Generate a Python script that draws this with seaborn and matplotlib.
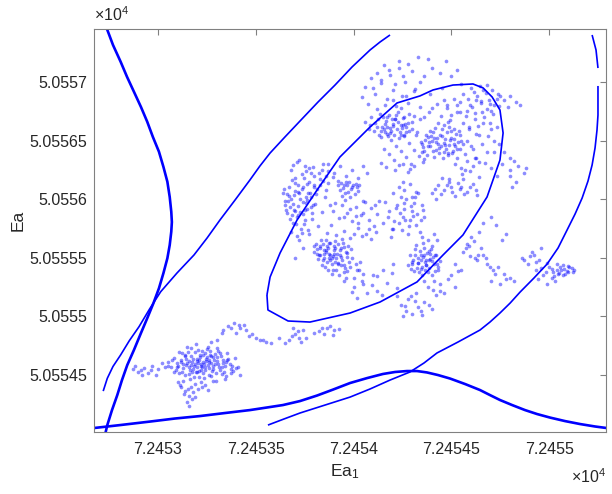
import numpy as np
import pandas as pd
import matplotlib
matplotlib.use("Agg")
import matplotlib.pyplot as plt
import seaborn as sns

# All coordinates below are offsets from these reference values
EA1_REF = 72450.0
EA_REF = 50550.0

# ---- posterior samples (Ea1, Ea) -------------------------------------------
samples_lower_left = [
    (3.15, 4.60), (3.18, 4.55), (3.20, 4.62), (3.22, 4.58), (3.25, 4.65), (3.27, 4.60),
    (3.17, 4.66), (3.23, 4.52), (3.28, 4.55), (3.30, 4.62), (3.19, 4.70), (3.24, 4.69),
    (3.13, 4.56), (3.21, 4.48), (3.26, 4.50), (3.31, 4.57), (3.16, 4.51), (3.29, 4.68),
    (3.33, 4.60), (3.12, 4.63), (3.20, 4.57), (3.23, 4.61), (3.26, 4.56), (3.18, 4.64),
    (3.22, 4.54), (3.27, 4.66), (3.14, 4.67), (3.10, 4.58), (3.34, 4.53), (3.36, 4.64),
    (3.38, 4.58), (3.35, 4.49), (3.08, 4.53), (3.11, 4.70), (3.17, 4.73), (3.25, 4.72),
    (3.30, 4.73), (3.28, 4.45), (3.22, 4.44), (3.40, 4.56), (3.19, 4.59), (3.21, 4.63),
    (3.24, 4.57), (3.16, 4.62), (3.26, 4.61), (3.20, 4.53), (3.29, 4.59), (3.13, 4.59),
    (3.32, 4.66), (3.23, 4.67),
    (3.185, 4.575), (3.205, 4.605), (3.235, 4.595), (3.255, 4.585), (3.175, 4.615),
    (3.215, 4.655), (3.245, 4.635), (3.265, 4.675), (3.195, 4.525), (3.285, 4.625),
    (3.305, 4.595), (3.145, 4.585), (3.165, 4.545), (3.225, 4.565), (3.275, 4.535),
    (3.315, 4.685), (3.345, 4.575), (3.125, 4.525), (3.155, 4.695), (3.205, 4.715),
    (3.355, 4.625), (3.375, 4.515), (3.095, 4.565), (3.235, 4.475), (3.265, 4.705),
    (3.185, 4.485), (3.325, 4.505), (3.295, 4.515), (3.215, 4.675), (3.145, 4.635),
    (3.052, 4.612), (3.068, 4.571), (3.083, 4.648), (3.097, 4.603), (3.108, 4.521),
    (3.121, 4.684), (3.138, 4.497), (3.149, 4.742), (3.163, 4.468), (3.171, 4.589),
    (3.188, 4.427), (3.196, 4.761), (3.209, 4.536), (3.227, 4.702), (3.238, 4.412),
    (3.246, 4.617), (3.258, 4.739), (3.271, 4.488), (3.282, 4.653), (3.297, 4.447),
    (3.309, 4.709), (3.318, 4.542), (3.331, 4.632), (3.342, 4.468), (3.353, 4.691),
    (3.367, 4.598), (3.384, 4.532), (3.396, 4.644), (3.408, 4.571), (3.419, 4.503),
    (3.071, 4.629), (3.092, 4.541), (3.117, 4.608), (3.139, 4.662), (3.157, 4.571),
    (3.176, 4.523), (3.197, 4.641), (3.218, 4.598), (3.239, 4.542), (3.261, 4.627),
    (3.283, 4.578), (3.304, 4.651), (3.326, 4.567), (3.348, 4.612), (3.371, 4.549),
    (3.178, 4.352), (3.204, 4.381), (3.226, 4.398), (3.254, 4.371), (3.187, 4.312),
    (2.87, 4.55), (2.90, 4.53), (2.93, 4.56), (2.95, 4.52), (2.97, 4.58), (3.00, 4.55),
    (3.02, 4.60), (3.05, 4.58), (2.92, 4.50), (2.99, 4.50),
    (2.885, 4.575), (2.915, 4.545), (2.965, 4.545), (3.035, 4.565),
    (3.12, 4.40), (3.14, 4.36), (3.16, 4.32), (3.15, 4.27), (3.17, 4.40), (3.13, 4.45),
    (3.10, 4.44), (3.16, 4.24), (3.135, 4.335), (3.155, 4.385), (3.175, 4.295),
    (3.115, 4.415),
]
samples_bridge = [
    (3.30, 4.80), (3.33, 4.88), (3.36, 4.92), (3.39, 4.94), (3.42, 4.90), (3.45, 4.88),
    (3.48, 4.85), (3.52, 4.80), (3.55, 4.78), (3.58, 4.77), (3.50, 4.82), (3.44, 4.93),
    (3.40, 4.86), (3.27, 4.78),
    (3.325, 4.855), (3.375, 4.905), (3.415, 4.925), (3.465, 4.835), (3.535, 4.795),
    (3.67, 4.80), (3.70, 4.85), (3.72, 4.82), (3.69, 4.90), (3.74, 4.88), (3.73, 4.78),
    (3.80, 4.86), (3.84, 4.90), (3.88, 4.92), (3.85, 4.85), (3.90, 4.88), (3.62, 4.82),
    (3.65, 4.77), (3.685, 4.835), (3.715, 4.875), (3.755, 4.815), (3.825, 4.875),
    (3.865, 4.905), (3.895, 4.845), (3.925, 4.895),
]
samples_below_ring = [
    (4.24, 5.10), (4.27, 5.05), (4.30, 5.02), (4.33, 5.08), (4.36, 5.12), (4.28, 5.15),
    (4.40, 5.06), (4.25, 5.00), (4.35, 5.01), (4.42, 5.18), (4.38, 5.25), (4.44, 5.22),
    (4.32, 5.20), (4.41, 5.30), (4.22, 5.17),
    (4.265, 5.085), (4.315, 5.135), (4.345, 5.045), (4.385, 5.095), (4.295, 5.175),
    (4.405, 5.225),
    (4.36, 5.30), (4.40, 5.35), (4.44, 5.28), (4.48, 5.32), (4.52, 5.25), (4.46, 5.20),
    (3.95, 5.30), (4.00, 5.25), (4.05, 5.28), (4.10, 5.35), (4.15, 5.40), (4.20, 5.45),
    (4.12, 5.22),
    (3.991, 5.212), (4.018, 5.156), (4.043, 5.301), (4.069, 5.198), (4.094, 5.267),
    (4.121, 5.341), (4.146, 5.183), (4.172, 5.289), (4.198, 5.372), (4.223, 5.244),
]
samples_ring_low = [
    (4.30, 5.45), (4.33, 5.50), (4.35, 5.42), (4.37, 5.48), (4.39, 5.53), (4.41, 5.45),
    (4.34, 5.56), (4.31, 5.39), (4.38, 5.38), (4.36, 5.58), (4.42, 5.52), (4.29, 5.52),
    (4.44, 5.47), (4.40, 5.60), (4.32, 5.61), (4.35, 5.35), (4.28, 5.44), (4.43, 5.40),
    (4.37, 5.44), (4.33, 5.46), (4.39, 5.49), (4.36, 5.52), (4.38, 5.65), (4.41, 5.70),
    (4.35, 5.68),
    (4.305, 5.485), (4.325, 5.415), (4.345, 5.525), (4.365, 5.465), (4.385, 5.415),
    (4.405, 5.505), (4.425, 5.445), (4.315, 5.575), (4.355, 5.625), (4.395, 5.575),
    (4.375, 5.545), (4.335, 5.375), (4.415, 5.385), (4.295, 5.405), (4.345, 5.485),
    (4.385, 5.485), (4.365, 5.395), (4.425, 5.655),
    (4.298, 5.468), (4.312, 5.521), (4.328, 5.452), (4.342, 5.401), (4.357, 5.508),
    (4.371, 5.436), (4.386, 5.559), (4.401, 5.472), (4.417, 5.527), (4.432, 5.419),
    (3.80, 5.55), (3.83, 5.60), (3.85, 5.50), (3.87, 5.58), (3.89, 5.45), (3.90, 5.53),
    (3.92, 5.62), (3.94, 5.48), (3.96, 5.55), (3.98, 5.42), (3.86, 5.65), (3.91, 5.40),
    (3.84, 5.44), (3.88, 5.52), (3.93, 5.57), (3.95, 5.38), (3.99, 5.50), (3.82, 5.49),
    (3.87, 5.40), (3.90, 5.60), (3.92, 5.46), (3.97, 5.60), (3.81, 5.62), (3.94, 5.66),
    (3.89, 5.36), (4.01, 5.45), (3.86, 5.55), (3.91, 5.50), (3.88, 5.63), (3.85, 5.57),
    (4.03, 5.40), (4.05, 5.36), (4.00, 5.33), (3.96, 5.33), (3.88, 5.48), (3.93, 5.52),
    (3.85, 5.53), (3.90, 5.57), (3.95, 5.44), (3.83, 5.52),
    (3.815, 5.575), (3.845, 5.615), (3.875, 5.495), (3.905, 5.465), (3.935, 5.585),
    (3.965, 5.505), (3.985, 5.575), (3.855, 5.425), (3.895, 5.395), (3.925, 5.355),
    (3.955, 5.415), (3.875, 5.535), (3.915, 5.535), (3.945, 5.625), (3.835, 5.655),
    (3.865, 5.605), (3.905, 5.645), (3.975, 5.465), (4.015, 5.395), (4.035, 5.465),
    (3.825, 5.525), (3.865, 5.465), (3.895, 5.515), (3.935, 5.435), (3.965, 5.385),
    (3.797, 5.598), (3.812, 5.531), (3.828, 5.587), (3.843, 5.478), (3.859, 5.569),
    (3.874, 5.627), (3.889, 5.501), (3.904, 5.582), (3.921, 5.446), (3.936, 5.511),
    (3.952, 5.594), (3.968, 5.537),
]
samples_ring_mid = [
    (3.65, 5.95), (3.68, 6.00), (3.70, 5.90), (3.72, 6.05), (3.74, 5.98), (3.67, 6.10),
    (3.71, 5.85), (3.76, 5.92), (3.78, 6.02), (3.69, 5.80), (3.73, 5.75), (3.75, 5.82),
    (3.66, 5.88), (3.79, 5.95), (3.80, 6.10), (3.64, 6.05), (3.70, 6.14), (3.77, 5.70),
    (3.72, 5.65), (3.68, 5.72), (3.74, 5.58), (3.70, 5.50),
    (3.665, 5.985), (3.695, 6.035), (3.715, 5.945), (3.735, 6.085), (3.755, 5.965),
    (3.685, 5.865), (3.725, 5.895), (3.765, 6.055), (3.645, 6.085), (3.705, 5.785),
    (3.735, 5.715), (3.785, 5.885), (3.675, 5.935), (3.715, 6.125), (3.755, 6.015),
    (3.652, 5.912), (3.661, 6.041), (3.674, 5.831), (3.683, 6.162), (3.691, 5.957),
    (3.702, 6.073), (3.709, 5.689), (3.718, 5.861), (3.727, 6.003), (3.736, 6.211),
    (3.744, 5.792), (3.752, 5.908), (3.761, 6.129), (3.769, 5.741), (3.778, 6.057),
    (3.786, 5.834), (3.793, 6.271), (3.802, 5.962), (3.811, 6.088), (3.819, 5.771),
    (3.828, 6.174), (3.836, 5.893), (3.845, 6.302), (3.853, 6.021), (3.862, 5.712),
    (3.871, 6.136), (3.877, 5.952), (3.689, 6.294), (3.723, 6.331), (3.757, 6.244),
    (3.648, 5.981), (3.671, 6.024), (3.694, 5.912), (3.716, 6.061), (3.739, 5.873),
    (3.761, 5.996), (3.784, 5.934), (3.806, 6.047),
    (3.74, 6.10), (3.77, 6.15), (3.80, 6.20), (3.83, 6.12), (3.86, 6.08),
    (3.68, 6.25), (3.71, 6.32), (3.75, 6.28), (3.78, 6.22), (3.70, 6.18),
    (3.84, 6.25), (3.87, 6.30), (3.90, 6.22), (3.93, 6.28), (3.86, 6.20),
    (3.748, 6.182), (3.772, 6.263), (3.797, 6.121), (3.821, 6.226), (3.846, 6.158),
    (3.871, 6.241), (3.895, 6.187), (3.921, 6.156),
    (3.93, 6.08), (3.95, 6.12), (3.97, 6.06), (3.99, 6.10), (4.01, 6.13), (3.96, 6.15),
    (3.94, 6.03), (4.02, 6.07), (3.98, 6.02), (3.92, 6.12),
    (3.945, 6.095), (3.965, 6.125), (3.985, 6.085), (4.005, 6.045), (3.955, 6.055),
    (3.975, 6.145), (4.015, 6.105), (3.935, 6.135), (3.995, 6.125), (4.025, 6.125),
    (3.96, 6.20), (3.99, 6.25), (4.02, 6.18), (4.05, 6.28), (4.07, 6.22),
    (3.95, 5.85), (3.98, 5.92), (4.02, 5.80), (4.05, 5.88), (4.08, 5.75), (4.11, 5.95),
    (4.00, 5.70), (4.06, 5.98),
    (3.884, 5.781), (3.897, 5.903), (3.912, 5.696), (3.926, 5.842), (3.939, 5.954),
    (3.951, 5.733), (3.968, 5.879), (3.982, 5.668), (3.994, 5.812), (4.011, 5.937),
    (4.024, 5.751), (4.037, 5.862), (4.049, 5.983), (4.063, 5.702), (4.078, 5.826),
    (4.091, 5.921), (4.104, 5.768), (4.118, 5.873), (4.129, 5.985), (4.041, 5.688),
    (3.958, 5.991), (4.087, 5.659), (3.905, 5.971), (4.012, 5.855), (4.115, 5.718),
    (4.15, 5.80), (4.18, 5.90), (4.20, 5.75), (4.22, 5.95), (4.25, 5.85), (4.27, 6.00),
    (4.30, 5.90), (4.32, 5.78), (4.35, 5.95), (4.28, 5.70), (4.24, 6.02), (4.33, 6.05),
    (4.36, 5.85), (4.19, 5.68), (4.26, 5.92), (4.29, 5.82), (4.31, 5.97), (4.34, 5.72),
    (4.23, 5.80), (4.16, 5.98),
    (4.175, 5.845), (4.205, 5.815), (4.235, 5.885), (4.265, 5.825), (4.295, 5.945),
    (4.325, 5.875), (4.345, 5.825), (4.215, 5.925), (4.255, 5.965), (4.285, 5.775),
    (4.315, 6.015), (4.355, 5.905), (4.195, 5.745), (4.245, 5.735), (4.305, 5.855),
    (4.20, 6.05), (4.23, 6.10), (4.26, 6.08), (4.29, 6.13), (4.32, 6.06), (4.25, 6.15),
    (4.30, 6.02), (4.21, 6.25), (4.25, 6.30), (4.28, 6.23), (4.31, 6.28),
    (4.40, 6.05), (4.43, 6.12), (4.46, 6.08), (4.49, 6.15), (4.52, 6.03), (4.55, 6.10),
    (4.58, 6.06), (4.61, 6.13), (4.45, 6.18), (4.50, 6.10), (4.56, 6.17), (4.63, 6.04),
    (4.42, 6.00),
    (4.415, 6.085), (4.445, 6.045), (4.475, 6.125), (4.505, 6.065), (4.535, 6.135),
    (4.565, 6.045), (4.595, 6.105), (4.625, 6.075), (4.485, 6.175), (4.545, 6.085),
]
samples_ring_high = [
    (4.35, 6.40), (4.38, 6.45), (4.40, 6.50), (4.42, 6.42), (4.44, 6.55), (4.46, 6.48),
    (4.48, 6.38), (4.50, 6.52), (4.52, 6.45), (4.54, 6.58), (4.37, 6.55), (4.41, 6.36),
    (4.45, 6.60), (4.49, 6.62), (4.53, 6.35), (4.43, 6.47), (4.47, 6.43), (4.39, 6.58),
    (4.36, 6.34), (4.51, 6.41), (4.55, 6.50), (4.41, 6.52), (4.46, 6.40),
    (4.355, 6.445), (4.385, 6.485), (4.405, 6.415), (4.425, 6.525), (4.445, 6.455),
    (4.465, 6.515), (4.485, 6.465), (4.505, 6.395), (4.525, 6.555), (4.545, 6.425),
    (4.375, 6.375), (4.395, 6.535), (4.415, 6.605), (4.455, 6.355), (4.475, 6.575),
    (4.435, 6.395), (4.495, 6.505), (4.515, 6.475), (4.365, 6.505), (4.535, 6.485),
    (4.347, 6.472), (4.362, 6.415), (4.378, 6.528), (4.391, 6.452), (4.407, 6.577),
    (4.421, 6.489), (4.437, 6.436), (4.452, 6.541), (4.468, 6.462), (4.483, 6.391),
    (4.498, 6.578), (4.514, 6.512), (4.529, 6.428), (4.544, 6.551), (4.559, 6.473),
    (4.52, 6.30), (4.55, 6.27), (4.58, 6.33), (4.61, 6.28), (4.64, 6.32), (4.57, 6.25),
    (4.62, 6.35),
    (4.60, 6.45), (4.64, 6.55), (4.68, 6.40), (4.70, 6.60), (4.72, 6.50), (4.66, 6.65),
    (4.59, 6.60),
    (4.552, 6.213), (4.567, 6.387), (4.581, 6.498), (4.596, 6.242), (4.611, 6.431),
    (4.627, 6.556), (4.642, 6.189), (4.657, 6.468), (4.672, 6.311), (4.688, 6.537),
    (4.703, 6.264), (4.718, 6.402), (4.733, 6.198), (4.745, 6.471), (4.627, 6.354),
    (4.141, 6.312), (4.153, 6.428), (4.166, 6.271), (4.179, 6.387), (4.192, 6.503),
    (4.204, 6.334), (4.218, 6.452), (4.231, 6.289), (4.243, 6.411), (4.256, 6.537),
    (4.268, 6.356), (4.281, 6.478), (4.294, 6.302), (4.307, 6.423), (4.319, 6.548),
    (4.332, 6.369), (4.344, 6.491), (4.357, 6.318), (4.172, 6.552), (4.288, 6.258),
    (4.08, 6.60), (4.11, 6.65), (4.13, 6.55), (4.15, 6.70), (4.17, 6.62), (4.19, 6.58),
    (4.21, 6.68), (4.23, 6.52), (4.25, 6.63), (4.27, 6.57), (4.09, 6.70), (4.14, 6.53),
    (4.18, 6.72), (4.22, 6.60), (4.26, 6.70), (4.12, 6.62), (4.16, 6.57), (4.20, 6.64),
    (4.24, 6.55), (4.28, 6.65), (4.30, 6.60), (4.06, 6.66),
    (4.085, 6.635), (4.105, 6.585), (4.125, 6.685), (4.145, 6.615), (4.165, 6.665),
    (4.185, 6.605), (4.205, 6.545), (4.225, 6.655), (4.245, 6.605), (4.265, 6.645),
    (4.285, 6.585), (4.135, 6.725), (4.175, 6.535), (4.215, 6.715), (4.255, 6.545),
    (4.195, 6.685), (4.155, 6.595), (4.235, 6.575),
    (4.142, 6.583), (4.158, 6.641), (4.171, 6.702), (4.186, 6.566), (4.199, 6.623),
    (4.213, 6.681), (4.227, 6.742), (4.241, 6.637), (4.254, 6.694), (4.268, 6.612),
    (4.283, 6.731), (4.297, 6.655), (4.311, 6.707), (4.324, 6.571), (4.337, 6.683),
    (4.16, 6.80), (4.20, 6.85), (4.24, 6.78), (4.27, 6.88),
]
samples_top = [
    (4.36, 6.70), (4.40, 6.78), (4.43, 6.65), (4.46, 6.85), (4.50, 6.72), (4.53, 6.80),
    (4.56, 6.90), (4.60, 6.95), (4.63, 6.88), (4.66, 6.93), (4.69, 6.85), (4.72, 6.80),
    (4.58, 6.75), (4.62, 6.68), (4.68, 6.97), (4.74, 6.90), (4.45, 6.95), (4.39, 6.90),
    (4.70, 6.75), (4.65, 6.82), (4.75, 6.88), (4.55, 6.98), (4.48, 6.66),
    (4.385, 6.745), (4.425, 6.815), (4.475, 6.775), (4.515, 6.855), (4.545, 6.745),
    (4.585, 6.855), (4.615, 6.915), (4.645, 6.965), (4.675, 6.905), (4.705, 6.935),
    (4.735, 6.855), (4.595, 6.805), (4.655, 6.745), (4.625, 6.845), (4.695, 6.815),
    (4.448, 6.712), (4.463, 6.631), (4.479, 6.803), (4.494, 6.679), (4.512, 6.598),
    (4.527, 6.742), (4.543, 6.826), (4.558, 6.654), (4.573, 6.711), (4.589, 6.613),
    (4.604, 6.789), (4.621, 6.736), (4.637, 6.624), (4.652, 6.841), (4.668, 6.702),
    (4.683, 6.771), (4.699, 6.653), (4.714, 6.728), (4.731, 6.612), (4.744, 6.794),
    (4.77, 6.85), (4.80, 6.88), (4.83, 6.83), (4.85, 6.80), (4.79, 6.79),
    (4.36, 7.05), (4.40, 7.12), (4.44, 7.08), (4.47, 7.18), (4.50, 7.05), (4.38, 7.20),
    (4.53, 7.10),
    (4.10, 6.95), (4.14, 7.02), (4.18, 7.10), (4.21, 6.98), (4.25, 7.05), (4.28, 7.15),
    (4.31, 6.92), (4.34, 7.00), (4.12, 7.08), (4.23, 7.12),
    (4.041, 6.872), (4.058, 6.953), (4.074, 6.811), (4.089, 7.031), (4.107, 6.897),
    (4.122, 6.771), (4.138, 6.989), (4.153, 7.148), (4.169, 6.852), (4.186, 7.063),
    (4.201, 6.931), (4.217, 6.798), (4.233, 7.181), (4.248, 6.879), (4.264, 7.002),
    (4.279, 6.823), (4.296, 7.097), (4.312, 6.944), (4.327, 7.213), (4.339, 6.786),
]
samples_right = [
    (4.76, 6.30), (4.80, 6.25), (4.84, 6.28), (4.87, 6.22), (4.82, 6.33), (4.88, 6.27),
    (4.80, 6.20), (4.83, 6.15), (4.81, 6.10), (4.77, 6.40), (4.80, 6.35),
    (4.66, 5.80), (4.70, 5.85), (4.73, 5.78), (4.76, 5.65), (4.78, 5.70),
    (4.78, 5.32), (4.82, 5.30),
    (4.56, 5.55), (4.59, 5.60), (4.62, 5.50), (4.65, 5.58), (4.68, 5.45), (4.71, 5.40),
    (4.74, 5.42), (4.77, 5.36), (4.80, 5.33), (4.60, 5.68), (4.64, 5.72), (4.58, 5.62),
    (4.63, 5.48), (4.70, 5.30), (4.75, 5.28), (4.66, 5.52), (4.55, 5.40), (4.52, 5.45),
    (4.50, 5.35),
    (4.575, 5.585), (4.615, 5.645), (4.635, 5.525), (4.675, 5.495), (4.695, 5.425),
    (4.725, 5.365), (4.535, 5.385), (4.595, 5.515),
    (4.86, 5.50), (4.89, 5.45), (4.91, 5.55), (4.93, 5.40), (4.95, 5.48), (4.97, 5.35),
    (5.00, 5.42), (5.02, 5.38), (5.04, 5.45), (5.06, 5.40), (5.08, 5.36), (5.10, 5.42),
    (5.12, 5.38), (5.03, 5.30), (4.99, 5.28), (4.94, 5.32), (5.07, 5.44), (5.09, 5.39),
    (5.05, 5.37), (4.96, 5.58), (4.92, 5.52),
    (4.985, 5.375), (5.015, 5.405), (5.045, 5.365), (5.075, 5.405), (5.095, 5.375),
    (5.115, 5.415), (5.055, 5.425), (5.025, 5.345),
    (4.872, 5.478), (4.903, 5.512), (4.931, 5.463), (4.958, 5.412), (4.987, 5.456),
    (5.013, 5.331), (5.041, 5.398), (5.068, 5.351), (5.094, 5.428), (5.124, 5.392),
]

# ---- contour lines (Ea1, Ea) -----------------------------------------------
contour_left = [
    (2.735, 7.500), (2.738, 7.458), (2.770, 7.316), (2.809, 7.173), (2.842, 7.043),
    (2.877, 6.917), (2.913, 6.787), (2.945, 6.661), (2.974, 6.531), (3.005, 6.405),
    (3.028, 6.275), (3.048, 6.149), (3.060, 6.019), (3.068, 5.893), (3.071, 5.805),
    (3.068, 5.723), (3.060, 5.609), (3.048, 5.496), (3.028, 5.370), (3.005, 5.240),
    (2.977, 5.114), (2.945, 4.984), (2.913, 4.858), (2.877, 4.713), (2.843, 4.585),
    (2.816, 4.457), (2.792, 4.329), (2.765, 4.201), (2.741, 4.073), (2.733, 4.016),
    (2.726, 3.950),
]
contour_diagonal = [
    (2.720, 4.363), (2.741, 4.472), (2.770, 4.573), (2.809, 4.671), (2.854, 4.794),
    (2.903, 4.912), (2.957, 5.063), (3.014, 5.211), (3.097, 5.370), (3.184, 5.524),
    (3.251, 5.669), (3.317, 5.823), (3.394, 5.993), (3.470, 6.164), (3.521, 6.283),
    (3.573, 6.394), (3.649, 6.531), (3.726, 6.667), (3.818, 6.829), (3.905, 6.974),
    (3.992, 7.128), (4.084, 7.273), (4.135, 7.341), (4.186, 7.401),
]
contour_ring = [
    (3.557, 5.183), (3.562, 5.055), (3.665, 4.961), (3.777, 4.952), (3.982, 5.029),
    (4.135, 5.123), (4.324, 5.294), (4.457, 5.524), (4.559, 5.695), (4.682, 6.019),
    (4.748, 6.334), (4.764, 6.565), (4.748, 6.761), (4.708, 6.872), (4.662, 6.949),
    (4.610, 6.983), (4.508, 6.974), (4.406, 6.932), (4.339, 6.881), (4.222, 6.821),
    (4.084, 6.616), (3.930, 6.360), (3.813, 6.078), (3.711, 5.823), (3.624, 5.541),
    (3.573, 5.336), (3.557, 5.183),
]
contour_bottom = [
    (2.652, 4.044), (2.806, 4.073), (2.959, 4.103), (3.087, 4.129), (3.215, 4.150),
    (3.343, 4.176), (3.470, 4.201), (3.557, 4.223), (3.639, 4.244), (3.726, 4.278),
    (3.813, 4.325), (3.895, 4.376), (3.982, 4.432), (4.069, 4.474), (4.150, 4.509),
    (4.212, 4.526), (4.273, 4.534), (4.324, 4.534), (4.375, 4.522), (4.431, 4.500),
    (4.493, 4.470), (4.570, 4.423), (4.646, 4.372), (4.697, 4.329), (4.748, 4.287),
    (4.810, 4.244), (4.876, 4.201), (4.938, 4.167), (5.004, 4.137), (5.081, 4.107),
    (5.157, 4.082), (5.234, 4.061), (5.311, 4.044),
]
contour_right = [
    (3.562, 4.073), (3.644, 4.125), (3.726, 4.176), (3.854, 4.244), (3.982, 4.312),
    (4.084, 4.381), (4.186, 4.457), (4.288, 4.526), (4.360, 4.603), (4.426, 4.688),
    (4.534, 4.782), (4.646, 4.884), (4.697, 4.952), (4.748, 5.029), (4.800, 5.114),
    (4.851, 5.208), (4.922, 5.328), (4.989, 5.447), (5.045, 5.584), (5.091, 5.737),
    (5.132, 5.874), (5.168, 6.010), (5.198, 6.155), (5.219, 6.292), (5.234, 6.437),
    (5.244, 6.590), (5.249, 6.718), (5.249, 6.846), (5.249, 6.966),
]
contour_right_top = [(5.249, 7.119), (5.239, 7.273), (5.219, 7.401)]

xtick_values = [72453.0, 72453.5, 72454.0, 72454.5, 72455.0]
xtick_labels = ["7.2453", "7.24535", "7.2454", "7.24545", "7.2455"]
ytick_values = [50554.5, 50555.0, 50555.5, 50556.0, 50556.5, 50557.0]
ytick_labels = ["5.05545", "5.0555", "5.05555", "5.0556", "5.05565", "5.0557"]


def to_frame(pairs):
    arr = np.asarray(pairs, dtype=float)
    return pd.DataFrame({"Ea1": EA1_REF + arr[:, 0], "Ea": EA_REF + arr[:, 1]})


samples = pd.concat(
    [to_frame(s) for s in (samples_lower_left, samples_bridge, samples_below_ring,
                           samples_ring_low, samples_ring_mid, samples_ring_high,
                           samples_top, samples_right)],
    ignore_index=True,
)

sns.set_theme(style="white")
plt.rcParams["font.family"] = ["Liberation Sans", "DejaVu Sans"]
plt.rcParams["mathtext.fontset"] = "custom"
plt.rcParams["mathtext.rm"] = "Liberation Sans"
plt.rcParams["mathtext.it"] = "Liberation Sans:italic"

fig = plt.figure(figsize=(6.12, 4.94), dpi=100)
ax = fig.add_axes([94 / 612, 1 - 432 / 494, 512 / 612, 403 / 494])

sns.scatterplot(data=samples, x="Ea1", y="Ea", s=7, color="#0000ff", alpha=0.45,
                linewidth=0, ax=ax, legend=False)

thick, thin = 1.9, 1.2
for pts, lw in ((contour_left, thick), (contour_bottom, thick),
                (contour_diagonal, thin), (contour_ring, thin),
                (contour_right, thin), (contour_right_top, thin)):
    sns.lineplot(data=to_frame(pts), x="Ea1", y="Ea", sort=False,
                 estimator=None, color="#0000ff", linewidth=lw, ax=ax)
for ln in ax.lines:
    ln.set_solid_joinstyle("round")
    ln.set_solid_capstyle("butt")

ax.set_xlim(72452.673, 72455.290)
ax.set_ylim(50554.014, 50557.452)
ax.set_xticks(xtick_values)
ax.set_xticklabels(xtick_labels)
ax.set_yticks(ytick_values)
ax.set_yticklabels(ytick_labels)

axis_grey = "#808080"
for sp in ax.spines.values():
    sp.set_color(axis_grey)
    sp.set_linewidth(0.8)
ax.tick_params(direction="in", length=4, width=0.8, color=axis_grey,
               top=True, right=True, labelsize=11.5, labelcolor="#262626")
ax.tick_params(axis="x", pad=7)
ax.tick_params(axis="y", pad=5)

ax.set_xlabel(r"Ea$_{\mathregular{1}}$", fontsize=12.5, color="#262626")
ax.set_ylabel("Ea", fontsize=12.5, color="#262626", va="center", ha="center")
ax.xaxis.set_label_coords(0.49, -0.075)
ax.yaxis.set_label_coords(-0.148, 0.526)

ax.text(0.0, 1.012, r"$\times\mathregular{10^{4}}$", transform=ax.transAxes,
        ha="left", va="bottom", fontsize=11.5, color="#262626")
ax.text(1.0, -0.088, r"$\times\mathregular{10^{4}}$", transform=ax.transAxes,
        ha="right", va="top", fontsize=11.5, color="#262626")

fig.savefig("out.png", dpi=100)
